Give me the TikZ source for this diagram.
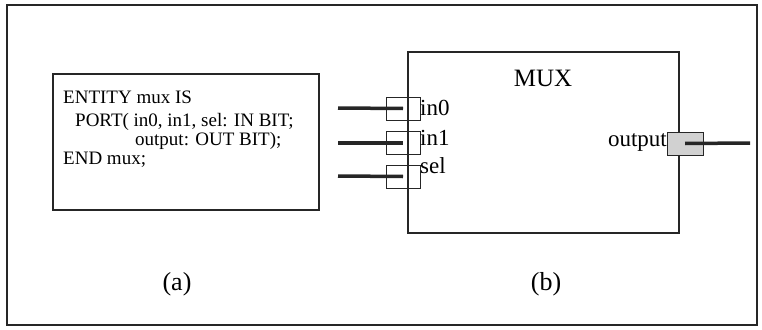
\documentclass[tikz,border=0pt]{standalone}
\usepackage{fontspec}
\setmainfont{Liberation Serif}
\begin{document}
\begin{tikzpicture}[x=1pt,y=-1pt,
  frame/.style={draw=black!85,line width=1.3pt},
  boxline/.style={draw=black!85,line width=1.1pt},
  portbox/.style={draw=black!85,line width=1pt,minimum width=34pt,minimum height=23pt,inner sep=0pt},
  wire/.style={draw=black!85,line width=3.5pt},
  code/.style={font=\fontsize{19}{19}\selectfont,anchor=base west,inner sep=0pt},
  plabel/.style={font=\fontsize{23}{23}\selectfont,inner sep=0pt},
  captext/.style={font=\fontsize{26}{26}\selectfont,inner sep=0pt,anchor=base}]
\useasboundingbox (0,0) rectangle (762,329);
\fill[white] (0,0) rectangle (762,329);
% outer frame
\node[frame,minimum width=750pt,minimum height=320pt,inner sep=0pt] (outer) at (382,165) {};
% (a) entity box
\node[boxline,minimum width=266pt,minimum height=136pt,inner sep=0pt] (ent) at (186,142) {};
\node[code] (l1) at (63,103) {ENTITY mux IS};
\node[code] (l2) at (75,126) {PORT( in0, in1, sel: IN BIT;};
\node[code] (l3) at (135,145) {output: OUT BIT);};
\node[code] (l4) at (63,164) {END mux;};
% (b) mux box
\node[boxline,minimum width=271pt,minimum height=181pt,inner sep=0pt] (mux) at (543.5,142.5) {};
\node[font=\fontsize{25}{25}\selectfont,inner sep=0pt,anchor=base] (muxl) at (543,86) {MUX};
% input ports
\node[portbox] (p0) at (403,108.5) {};
\node[portbox] (p1) at (403,143) {};
\node[portbox] (p2) at (403,176.5) {};
\coordinate (w0) at (338,108);
\coordinate (w1) at (338,143);
\coordinate (w2) at (338,176);
\draw[wire] (w0) -- (p0.center);
\draw[wire] (w1) -- (p1.center);
\draw[wire] (w2) -- (p2.center);
\node[plabel,anchor=base west] (t0) at (420,115) {in0};
\node[plabel,anchor=base west] (t1) at (420,145) {in1};
\node[plabel,anchor=base west] (t2) at (420,173) {sel};
% output port
\node[portbox,fill=black!18,minimum width=36pt] (po) at (685,143.5) {};
\coordinate (wo) at (750,143);
\draw[wire] (po.center) -- (wo);
\node[plabel,anchor=base east] (to) at (667,146) {output};
% captions
\node[captext] (ca) at (177,290) {(a)};
\node[captext] (cb) at (546,290) {(b)};
\end{tikzpicture}
\end{document}
